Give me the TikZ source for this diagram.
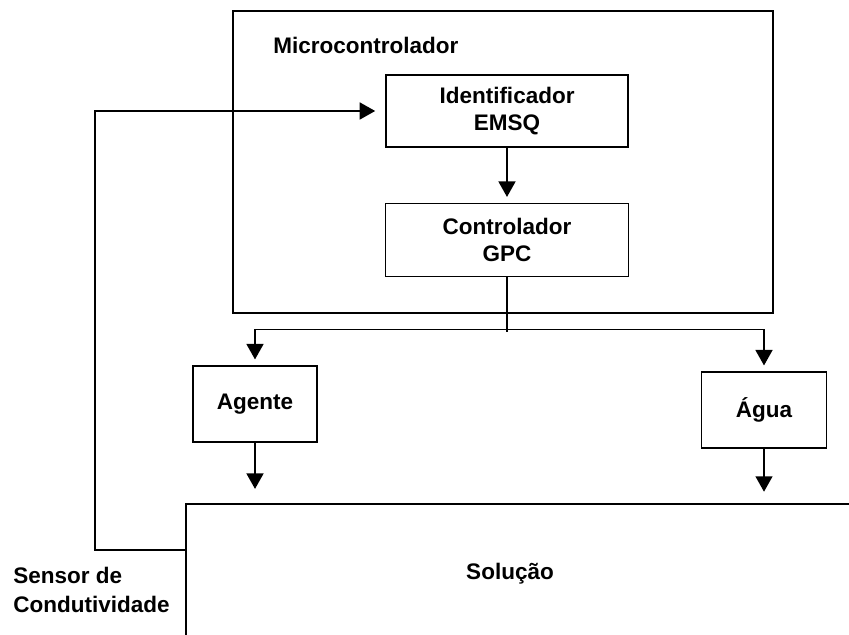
\documentclass[tikz,border=0pt]{standalone}
\usepackage{fontspec}
\setmainfont{Liberation Sans}
\usetikzlibrary{arrows.meta,calc}

\tikzset{
  box/.style={draw, line width=1.3pt, inner sep=0pt, align=center,
    font=\bfseries\fontsize{16}{19.5}\selectfont},
  lbl/.style={inner sep=0pt, font=\bfseries\fontsize{16}{19.5}\selectfont},
  arr/.style={line width=1.3pt, -{Triangle[width=12pt,length=11pt]}}
}

\begin{document}
\begin{tikzpicture}[x=0.025cm, y=-0.025cm]
  \useasboundingbox (0,0) rectangle (849,635);
  \clip (0,0) rectangle (849,635);

  % Microcontrolador
  \node[box, minimum width=13.5cm, minimum height=7.55cm] (micro) at (503,162) {};
  \node[lbl, anchor=west] (microtxt) at (273,45) {Microcontrolador};
  \node[box, minimum width=6.05cm, minimum height=1.8cm] (ident) at (507,111) {Identificador\\EMSQ};
  \node[box, minimum width=6.075cm, minimum height=1.825cm] (contr) at (507,240) {Controlador\\GPC};

  % Agente e agua
  \node[box, minimum width=3.1cm, minimum height=1.9cm] (agente) at (255,404) {Agente};
  \node[box, minimum width=3.125cm, minimum height=1.9cm] (agua) at (764,410) {Água};

  % Solucao (cortada na borda)
  \node[box, anchor=north west, minimum width=18cm, minimum height=5cm] (sol) at (185,503) {};
  \node[lbl] (soltxt) at (510,574) {Solução};
  \node[lbl, anchor=west, align=left, font=\bfseries\fontsize{16}{21}\selectfont] (sensor) at (13,590) {Sensor de\\Condutividade};

  % Ligacoes
  \coordinate (sens) at ($(sol.north west)+(0,47)$);
  \draw[arr, shorten >=7pt] (sens) -- ++(-90,0) |- (ident.west);
  \draw[arr, shorten >=4pt] (ident.south) -- (contr.north);
  \coordinate (split) at ($(contr.south)+(0,52)$);
  \draw[line width=1.3pt] (contr.south) -- ++(0,55);
  \draw[arr, shorten >=4pt] (split) -| (agente.north);
  \draw[arr, shorten >=4pt] (split) -| (agua.north);
  \draw[arr, shorten >=10pt] (agente.south) -- (agente.south |- sol.north);
  \draw[arr, shorten >=8pt] (agua.south) -- (agua.south |- sol.north);
\end{tikzpicture}
\end{document}
